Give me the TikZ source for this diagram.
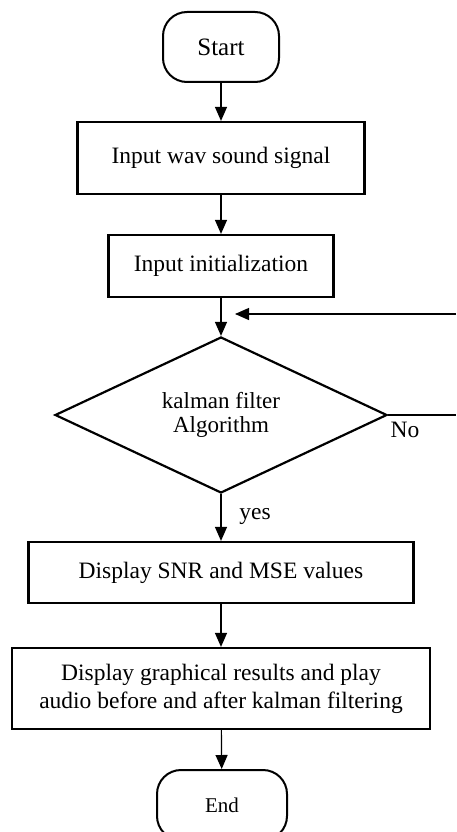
\documentclass[tikz,border=0pt]{standalone}
\usepackage{fontspec}
\setmainfont{Liberation Serif}
\usetikzlibrary{shapes.geometric,arrows.meta}
\begin{document}
\begin{tikzpicture}[x=1pt,y=-1pt,
  boxstyle/.style={draw,line width=2.2pt,rectangle,inner sep=0pt,font=\fontsize{23.5}{28}\selectfont,align=center},
  termstyle/.style={draw,line width=2.0pt,rectangle,rounded corners=24pt,inner sep=0pt},
  decstyle/.style={draw,line width=2.2pt,diamond,inner sep=0pt,aspect=2.13,minimum width=332pt,minimum height=156pt,font=\fontsize{23}{24.5}\selectfont,align=center},
  arr/.style={line width=1.2pt,-{Triangle[length=14pt,width=12pt]}},
  plain/.style={line width=1.2pt},
  lbl/.style={inner sep=0pt,font=\fontsize{23.5}{28}\selectfont}
]
\useasboundingbox (0,0) rectangle (456,832);
\clip (0,0) rectangle (456,832);
\node[termstyle,minimum width=116pt,minimum height=70pt,font=\fontsize{25}{28}\selectfont] (start) at (221,47) {Start};
\node[boxstyle,minimum width=287pt,minimum height=72pt] (box1) at (221,158) {Input wav sound signal};
\node[boxstyle,minimum width=225pt,minimum height=62pt] (box2) at (221,266) {Input initialization};
\node[decstyle] (dec) at (221,415) {kalman filter\\Algorithm};
\node[boxstyle,minimum width=385pt,minimum height=61pt] (box3) at (221,572.5) {Display SNR and MSE values};
\node[boxstyle,minimum width=418pt,minimum height=81pt] (box4) at (221,688.5) {Display graphical results and play\\audio before and after kalman filtering};
\node[termstyle,minimum width=130pt,minimum height=70pt,font=\fontsize{21}{24}\selectfont] (end) at (222,805) {End};
\coordinate (fbstart) at (456,314);
\coordinate (fbend) at (235,314);
\coordinate (noend) at (456,415);
\draw[arr] (start) -- (box1);
\draw[arr] (box1) -- (box2);
\draw[arr] (box2) -- (dec);
\draw[arr] (fbstart) -- (fbend);
\draw[plain] (dec.east) -- (noend);
\node[lbl] (nolbl) at (405,430) {No};
\draw[arr] (dec) -- (box3);
\node[lbl] (yeslbl) at (255,516) {yes};
\draw[arr] (box3) -- (box4);
\draw[arr] (box4) -- (end);
\end{tikzpicture}
\end{document}
